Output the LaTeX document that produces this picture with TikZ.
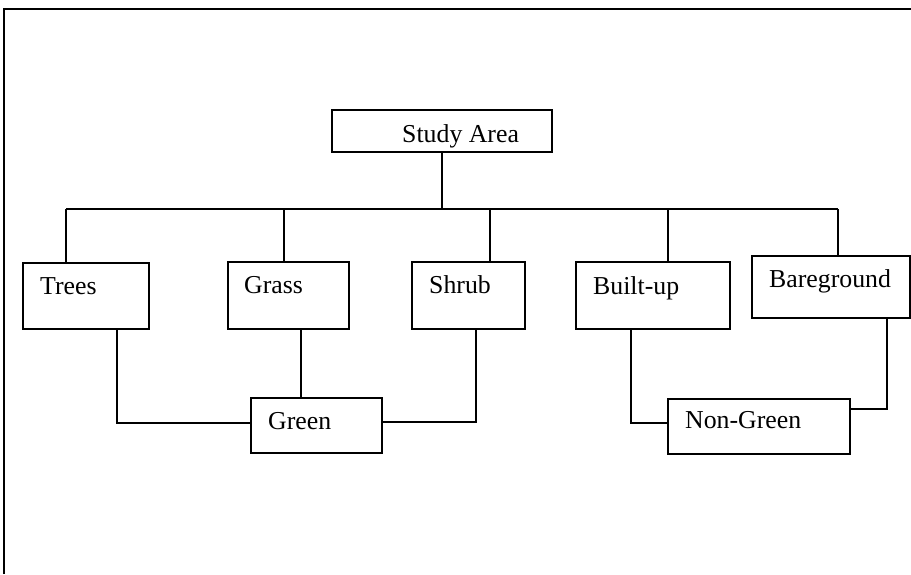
\documentclass[tikz,border=0pt]{standalone}
\usepackage{fontspec}
\setmainfont{Liberation Serif}
\begin{document}
\begin{tikzpicture}[x=1pt,y=-1pt,
  box/.style={draw, line width=1.2pt, rectangle, inner sep=0pt, outer sep=0pt, anchor=north west},
  lbl/.style={anchor=base west, inner sep=0pt, font=\fontsize{25.8}{31}\selectfont},
  conn/.style={draw, line width=1.1pt}]
\useasboundingbox (0,0) rectangle (911,574);
\draw[line width=1.4pt] (4,574) -- (4,9) -- (911,9);
% boxes
\node[box, minimum width=220pt, minimum height=42pt] (sa) at (332,110) {};
\node[box, minimum width=126pt, minimum height=66pt] (trees) at (23,263) {};
\node[box, minimum width=121pt, minimum height=67pt] (grass) at (228,262) {};
\node[box, minimum width=113pt, minimum height=67pt] (shrub) at (412,262) {};
\node[box, minimum width=154pt, minimum height=67pt] (built) at (576,262) {};
\node[box, minimum width=158pt, minimum height=62pt] (bare) at (752,256) {};
\node[box, minimum width=131pt, minimum height=55pt] (green) at (251,398) {};
\node[box, minimum width=182pt, minimum height=55pt] (nongreen) at (668,399) {};
% labels
\node[lbl] (saT) at (402,142) {Study Area};
\node[lbl] (treesT) at (40,294) {Trees};
\node[lbl] (grassT) at (244,293) {Grass};
\node[lbl] (shrubT) at (429,293) {Shrub};
\node[lbl] (builtT) at (593,294) {Built-up};
\node[lbl] (bareT) at (769,287) {Bareground};
\node[lbl] (greenT) at (268,429) {Green};
\node[lbl] (nongreenT) at (685,428) {Non-Green};
% upper connectors
\coordinate (b0) at (442,209);
\coordinate (bT) at (66,209);
\coordinate (bG) at (284,209);
\coordinate (bS) at (490,209);
\coordinate (bB) at (668,209);
\coordinate (bE) at (838,209);
\draw[conn] (b0 |- sa.south) -- (b0);
\draw[conn] (bT) -- (bE);
\draw[conn] (bT) -- (bT |- trees.north);
\draw[conn] (bG) -- (bG |- grass.north);
\draw[conn] (bS) -- (bS |- shrub.north);
\draw[conn] (bB) -- (bB |- built.north);
\draw[conn] (bE) -- (bE |- bare.north);
% lower connectors
\coordinate (tD) at (117,423);
\coordinate (gD) at (301,0);
\coordinate (sD) at (476,422);
\coordinate (uD) at (631,423);
\coordinate (eD) at (887,409);
\draw[conn] (tD |- trees.south) -- (tD) -- (tD -| green.west);
\draw[conn] (gD |- grass.south) -- (gD |- green.north);
\draw[conn] (sD |- shrub.south) -- (sD) -- (sD -| green.east);
\draw[conn] (uD |- built.south) -- (uD) -- (uD -| nongreen.west);
\draw[conn] (eD |- bare.south) -- (eD) -- (eD -| nongreen.east);
\end{tikzpicture}
\end{document}
